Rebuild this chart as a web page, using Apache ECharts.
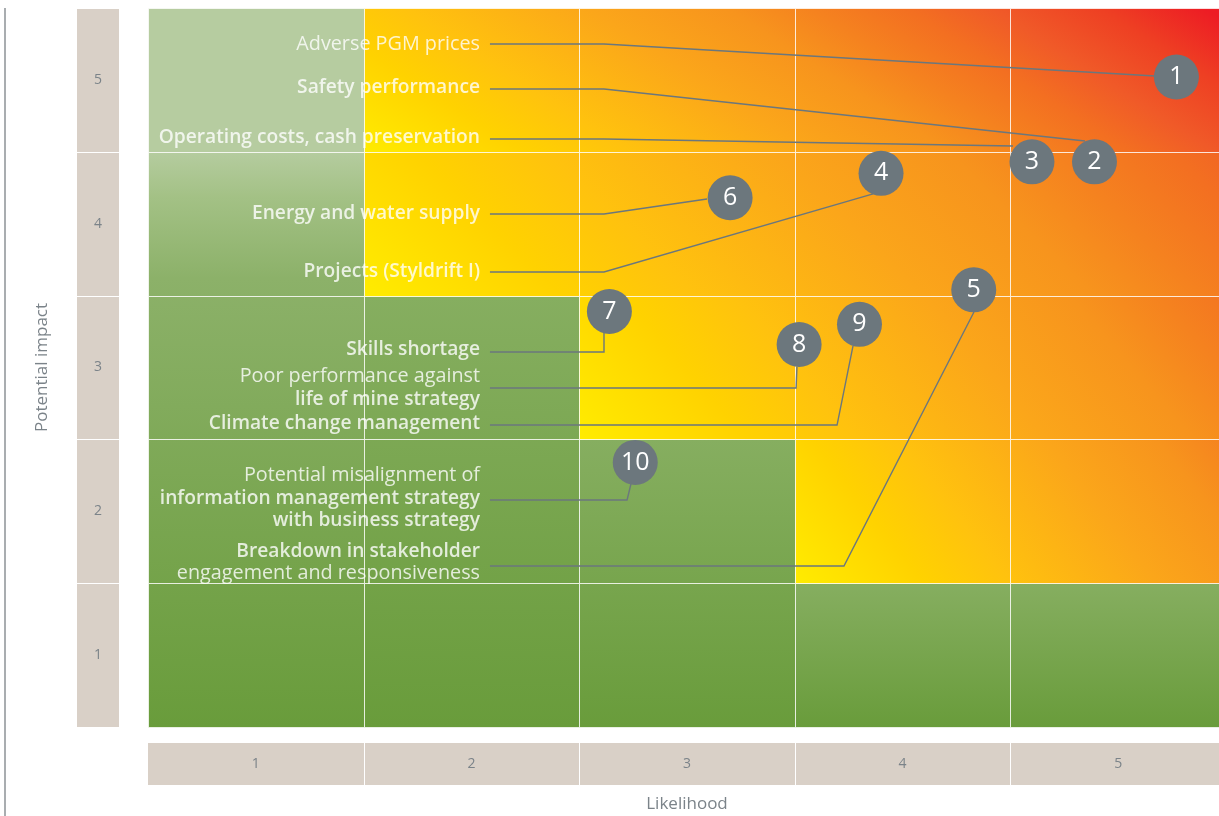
<!DOCTYPE html>
<html><head><meta charset="utf-8">
<script src="https://cdn.jsdelivr.net/npm/echarts@6/dist/echarts.min.js"></script>
<style>html,body{margin:0;padding:0;background:#fff}#chart{width:1219px;height:816px}</style>
</head><body><div id="chart"></div>
<script>
// ---------- data ----------
const likelihoodTicks = ['1', '2', '3', '4', '5'];
const impactTicks = ['1', '2', '3', '4', '5'];
// zone per impact row (index 0 = impact 1), per likelihood column: G green, P pale green, H heat
const zoneRows = [
  ['G', 'G', 'G', 'G', 'G'],
  ['G', 'G', 'G', 'H', 'H'],
  ['G', 'G', 'H', 'H', 'H'],
  ['G', 'H', 'H', 'H', 'H'],
  ['P', 'H', 'H', 'H', 'H']
];
const riskIds = ['1', '2', '3', '4', '5', '6', '7', '8', '9', '10'];
const riskLikelihood = [5.27, 4.89, 4.60, 3.90, 4.33, 3.20, 2.64, 3.52, 3.80, 2.76];
const riskImpact = [5.02, 4.43, 4.43, 4.35, 3.54, 4.18, 3.39, 3.16, 3.30, 2.34];
const riskNames = [
  ['Adverse PGM prices'],
  ['Safety performance'],
  ['Operating costs, cash preservation'],
  ['Projects (Styldrift I)'],
  ['Breakdown in stakeholder', 'engagement and responsiveness'],
  ['Energy and water supply'],
  ['Skills shortage'],
  ['Poor performance against', 'life of mine strategy'],
  ['Climate change management'],
  ['Potential misalignment of', 'information management strategy', 'with business strategy']
];
const riskNameWeights = [[400], [600], [600], [600], [600, 400], [600], [600], [400, 600], [600], [400, 600, 600]];
const labelLikelihood = 2.04;
const labelImpact = [5.250, 4.944, 4.596, 3.664, 1.644, 4.074, 3.122, 2.857, 2.607, 2.092];
const leaderStartLikelihood = 2.086;
const leaderImpact = [5.250, 4.937, 4.589, 3.664, 1.620, 4.067, 3.108, 2.857, 2.600, 2.079];
const leaderElbowLikelihood = [2.615, 2.615, 2.615, 2.615, 3.728, 2.615, 2.615, 3.506, 3.696, 2.722];
const leaderEndLikelihood = [5.171, 4.846, 4.512, 3.863, 4.331, 3.093, 2.615, 3.510, 3.770, 2.740];
const leaderEndImpact = [5.027, 4.575, 4.540, 4.207, 3.386, 4.172, 3.240, 3.003, 3.150, 2.190];

// ---------- styles ----------
const FONT = '"Open Sans", "DejaVu Sans", sans-serif';
const heatStops = [
  { offset: 0, color: '#ffec00' },
  { offset: 0.15, color: '#ffd200' },
  { offset: 0.25, color: '#ffc20e' },
  { offset: 0.42, color: '#fba61a' },
  { offset: 0.55, color: '#f7941d' },
  { offset: 0.63, color: '#f5821f' },
  { offset: 0.72, color: '#f36f21' },
  { offset: 0.8, color: '#f05a28' },
  { offset: 0.9, color: '#ee4023' },
  { offset: 1, color: '#ed1c24' }
];
const heatTL = { 2: 0.13, 3: 0.11, 4: 0.11, 5: 0.21 };
const heatBR = { 2: 0.50, 3: 0.58, 4: 0.65, 5: 0.81 };
const greenStops = [{ offset: 0, color: '#86ae60' }, { offset: 1, color: '#699c3b' }];
const greenTopStops = [
  { offset: 0, color: '#b5cc9f' },
  { offset: 0.08, color: '#a3c185' },
  { offset: 0.22, color: '#8cb169' },
  { offset: 1, color: '#699c3b' }
];

const cellData = [];
zoneRows.forEach((row, ri) => row.forEach((z, ci) => cellData.push([ci + 1, ri + 1])));

function renderCell(params, api) {
  const L = api.value(0), I = api.value(1);
  const z = zoneRows[I - 1][L - 1];
  const p0 = api.coord([L - 0.5, I + 0.5]);
  const p1 = api.coord([L + 0.5, I - 0.5]);
  let fill;
  if (z === 'H') {
    const firstH = zoneRows[I - 1].indexOf('H') + 1;
    const bl = api.coord([firstH - 0.5, I - 0.5]);
    const tr = api.coord([5.5, I + 0.5]);
    const W = tr[0] - bl[0], H = bl[1] - tr[1];
    const a = heatBR[I] / W, b = heatTL[I] / H;
    const d = a * a + b * b;
    fill = new echarts.graphic.LinearGradient(bl[0], bl[1], bl[0] + a / d, bl[1] - b / d, heatStops, true);
  } else if (z === 'G') {
    let top = 0;
    for (let i = 0; i < 5; i++) if (zoneRows[i][L - 1] === 'G') top = i + 1;
    const yt = api.coord([L, top + 0.5])[1], yb = api.coord([L, 0.5])[1];
    fill = new echarts.graphic.LinearGradient(0, yt, 0, yb, top === 4 ? greenTopStops : greenStops, true);
  } else {
    fill = '#b6cca0';
  }
  const x0 = Math.round(p0[0]) + 0.5, y0 = Math.round(p0[1]) + 0.5;
  const x1 = Math.round(p1[0]) + 0.5, y1 = Math.round(p1[1]) + 0.5;
  return {
    type: 'rect',
    shape: { x: x0, y: y0, width: x1 - x0, height: y1 - y0 },
    style: { fill: fill, stroke: 'rgba(255,255,255,0.7)', lineWidth: 1 }
  };
}

function renderYBox(params, api) {
  const v = api.value(0);
  const t = api.coord([0.5, v + 0.5]);
  const b = api.coord([0.5, v - 0.5]);
  const x0 = t[0] - 71, x1 = t[0] - 29;
  return {
    type: 'group',
    children: [
      { type: 'rect', shape: { x: x0, y: Math.round(t[1]) + 1, width: x1 - x0, height: Math.round(b[1]) - Math.round(t[1]) - 1 },
        style: { fill: '#d9d0c7' } },
      { type: 'text', style: { text: impactTicks[params.dataIndex], x: (x0 + x1) / 2, y: (t[1] + b[1]) / 2,
        align: 'center', verticalAlign: 'middle', fill: '#7b8389', fontSize: 14, fontFamily: FONT } }
    ]
  };
}

function renderXBox(params, api) {
  const v = api.value(0);
  const l = api.coord([v - 0.5, 0.5]);
  const r = api.coord([v + 0.5, 0.5]);
  const y0 = l[1] + 16, y1 = l[1] + 58;
  const gap = v === 1 ? 0 : 1;
  return {
    type: 'group',
    children: [
      { type: 'rect', shape: { x: Math.round(l[0]) + gap, y: y0, width: Math.round(r[0]) - Math.round(l[0]) - gap, height: y1 - y0 },
        style: { fill: '#d9d0c7' } },
      { type: 'text', style: { text: likelihoodTicks[params.dataIndex], x: (l[0] + r[0]) / 2, y: (y0 + y1) / 2,
        align: 'center', verticalAlign: 'middle', fill: '#7b8389', fontSize: 14, fontFamily: FONT } }
    ]
  };
}

function renderLeader(params, api) {
  const i = params.dataIndex;
  const pts = [
    [leaderStartLikelihood, leaderImpact[i]],
    [leaderElbowLikelihood[i], leaderImpact[i]],
    [leaderEndLikelihood[i], leaderEndImpact[i]]
  ].map(p => api.coord(p));
  return { type: 'polyline', shape: { points: pts }, style: { stroke: '#6b777d', lineWidth: 1.4, fill: null } };
}

const labelRich = {
  w400: { fontWeight: 400, fontSize: 19.8, lineHeight: 22.5, color: '#ffffff', fontFamily: FONT },
  w600: { fontWeight: 600, fontSize: 19.2, lineHeight: 22.5, color: '#ffffff', fontFamily: FONT }
};

const chart = echarts.init(document.getElementById('chart'));
chart.setOption({
  animation: false,
  backgroundColor: '#ffffff',
  grid: { left: 148, top: 8, right: -7, bottom: 89, containLabel: false, outerBoundsMode: 'none' },
  xAxis: {
    type: 'value', min: 0.5, max: 5.5,
    axisLine: { show: false }, axisTick: { show: false }, axisLabel: { show: false }, splitLine: { show: false },
    name: 'Likelihood', nameLocation: 'middle', nameGap: 69,
    nameTextStyle: { color: '#7b8389', fontSize: 17, fontFamily: FONT }
  },
  yAxis: {
    type: 'value', min: 0.5, max: 5.5,
    axisLine: { show: false }, axisTick: { show: false }, axisLabel: { show: false }, splitLine: { show: false },
    name: 'Potential impact', nameLocation: 'middle', nameGap: 97,
    nameTextStyle: { color: '#7b8389', fontSize: 17, fontFamily: FONT }
  },
  graphic: [
    { type: 'line', shape: { x1: 5, y1: 8, x2: 5, y2: 816 }, style: { stroke: '#8c9296', lineWidth: 1.5 } }
  ],
  series: [
    { type: 'custom', name: 'cells', renderItem: renderCell, data: cellData, silent: true, z: 1 },
    { type: 'custom', name: 'impactBoxes', renderItem: renderYBox, data: impactTicks.map((t, i) => [i + 1, 0]), silent: true, z: 1 },
    { type: 'custom', name: 'likelihoodBoxes', renderItem: renderXBox, data: likelihoodTicks.map((t, i) => [i + 1, 0]), silent: true, z: 1 },
    { type: 'custom', name: 'leaders', renderItem: renderLeader, data: riskIds.map((t, i) => [i, 0]), silent: true, z: 2 },
    {
      type: 'scatter', name: 'labels', symbolSize: 0, z: 3, silent: true,
      data: riskNames.map((n, i) => [labelLikelihood, labelImpact[i]]),
      label: {
        show: true, position: 'left', distance: 0,
        formatter: p => riskNames[p.dataIndex].map((t, k) => '{w' + riskNameWeights[p.dataIndex][k] + '|' + t + '}').join('\n'),
        rich: labelRich, align: 'right'
      }
    },
    {
      type: 'scatter', name: 'risks', symbol: 'circle', symbolSize: 45, z: 4, silent: true,
      itemStyle: { color: '#6c777d', opacity: 1 },
      data: riskLikelihood.map((x, i) => [x, riskImpact[i]]),
      label: {
        show: true, position: 'inside', formatter: p => riskIds[p.dataIndex],
        color: '#ffffff', fontSize: 25, fontFamily: FONT, fontWeight: 400
      }
    }
  ]
});
</script>
</body></html>
